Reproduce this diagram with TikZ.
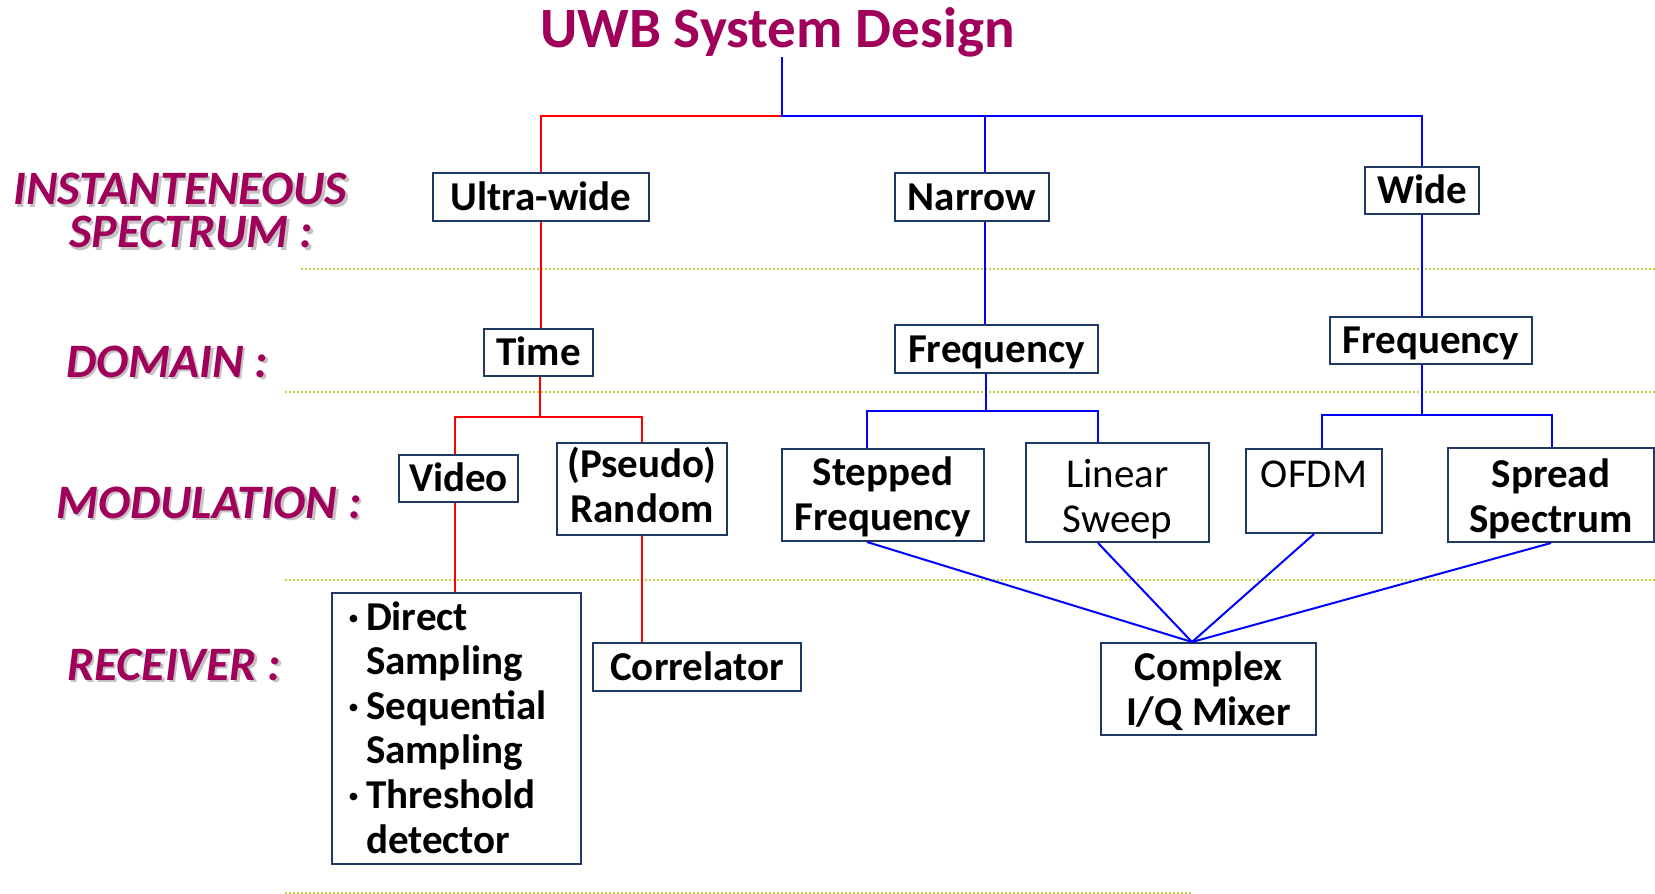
\documentclass[tikz,border=0pt]{standalone}
\usepackage{fontspec}
\setmainfont{Carlito}
\usetikzlibrary{calc}

\definecolor{uwbmag}{RGB}{160,0,90}
\definecolor{boxnavy}{RGB}{31,56,100}
\definecolor{sepgreen}{RGB}{192,208,64}
\definecolor{shadowgray}{RGB}{195,195,195}

\newcommand\uwbTitleFont{\fontsize{57}{60}\selectfont\bfseries}
\newcommand\uwbBoxFont{\fontsize{41}{45}\selectfont\bfseries}
\newcommand\uwbBoxFontReg{\fontsize{41}{45}\selectfont}
\newcommand\uwbListFont{\fontsize{41}{44.6}\selectfont\bfseries}
\newcommand\uwbLvlFont{\fontsize{48}{43}\selectfont\bfseries\itshape}
% two-line box text: first-line ascent strut, last-line depth strut
\newcommand\uwbTwo[3]{\rule{0pt}{#1pt}#2\\#3\rule[-10pt]{0pt}{10pt}}
% level label with a soft grey drop shadow behind it
\newcommand\uwbShadowed[1]{\rlap{\kern2.5pt\raisebox{-2.5pt}{\textcolor{shadowgray}{#1}}}#1}

\tikzset{
  nbox/.style={draw=boxnavy, line width=2pt, fill=white, inner sep=0pt,
    align=center, font=\uwbBoxFont},
  oneline/.style={text height=30pt, text depth=4pt},
  redline/.style={draw=red, line width=2pt},
  blueline/.style={draw=blue, line width=2pt},
  sepline/.style={draw=sepgreen, line width=1.6pt, dash pattern=on 1.6pt off 2.4pt},
  lvl/.style={font=\uwbLvlFont, text=uwbmag, anchor=base west, inner sep=0pt},
}

\begin{document}
\begin{tikzpicture}[x=1pt, y=-1pt]
\useasboundingbox (0,0) rectangle (1655,894);

% level separators
\draw[sepline] (301,269) -- (1655,269);
\draw[sepline] (285,392) -- (1655,392);
\draw[sepline] (285,580) -- (1655,580);
\draw[sepline] (285,893) -- (1191,893);

% title
\node[font=\uwbTitleFont, text=uwbmag, anchor=base, inner sep=0pt] (title) at (777.5,47) {UWB System Design};

% level labels
\node[lvl, anchor=north west, align=left] (l1) at (13,173) {%
  \uwbShadowed{INSTANTENEOUS}\\
  \hspace*{56pt}\uwbShadowed{SPECTRUM :}};
\node[lvl] (l3) at (66,377) {\uwbShadowed{DOMAIN :}};
\node[lvl] (l4) at (56,518) {\uwbShadowed{MODULATION :}};
\node[lvl] (l5) at (67,680) {\uwbShadowed{RECEIVER :}};

% instantaneous spectrum
\node[nbox, oneline, minimum width=216, minimum height=48] (ultra) at (541,197) {Ultra-wide};
\node[nbox, oneline, minimum width=154, minimum height=48] (narrow) at (972,197) {Narrow};
\node[nbox, oneline, minimum width=114, minimum height=47] (wide) at (1422,190.5) {Wide};

% domain
\node[nbox, oneline, minimum width=109, minimum height=47] (time) at (538.5,352.5) {Time};
\node[nbox, oneline, minimum width=203, minimum height=48] (freqN) at (996.5,349) {Frequency};
\node[nbox, oneline, minimum width=202, minimum height=47] (freqW) at (1431,340.5) {Frequency};

% modulation
\node[nbox, oneline, minimum width=119, minimum height=47] (video) at (458.5,478.5) {Video};
\node[nbox, minimum width=170, minimum height=92] (random) at (642,489) {\uwbTwo{31}{(Pseudo)}{Random}};
\node[nbox, minimum width=202, minimum height=92] (stepped) at (883,495) {\uwbTwo{35}{Stepped}{Frequency}};
\node[nbox, font=\uwbBoxFontReg, minimum width=183, minimum height=87] (linear) at (1117.5,492.5) {\uwbTwo{44}{Linear}{Sweep}};
\node[nbox, font=\uwbBoxFontReg, text height=30pt, text depth=38pt, minimum width=136, minimum height=84] (ofdm) at (1314,491) {OFDM};
\node[nbox, minimum width=206, minimum height=92] (spread) at (1551,495) {\uwbTwo{39}{Spread}{Spectrum}};

% receiver
\node[nbox, font=\uwbListFont, align=left, text width=217pt, minimum width=249, minimum height=271] (recv) at (456.5,728.5) {%
\rule{0pt}{36pt}\makebox[18pt][l]{·}Direct\\
\hspace*{18pt}Sampling\\
\makebox[18pt][l]{·}Sequential\\
\hspace*{18pt}Sampling\\
\makebox[18pt][l]{·}Threshold\\
\hspace*{18pt}detector\rule[-10pt]{0pt}{10pt}};
\node[nbox, oneline, minimum width=208, minimum height=48] (corr) at (697,667) {Correlator};
\node[nbox, minimum width=215, minimum height=92] (mixer) at (1208.5,689) {\uwbTwo{37}{Complex}{I/Q Mixer}};

% junction points
\coordinate (top) at (782,116);
\coordinate (nx) at (985,116);
\coordinate (tj) at (540,417);
\coordinate (vj) at (455,417);
\coordinate (rj) at (642,417);
\coordinate (fnj) at (986,411);
\coordinate (sj) at (867,411);
\coordinate (lj) at (1098,411);
\coordinate (fwj) at (1422,415);
\coordinate (oj) at (1322,415);
\coordinate (spj) at (1552,415);
\path (mixer.north) ++(-16.5,0) coordinate (mixtop);

% ultra-wide (time domain) branch
\draw[redline] (top) -| (ultra.north);
\draw[redline] (ultra.south) -- (time.north -| ultra.south);
\draw[redline] (time.south -| tj) -- (tj);
\draw[redline] (video.north -| vj) -- (vj) -- (rj) -- (random.north);
\draw[redline] (video.south -| vj) -- (recv.north -| vj);
\draw[redline] (random.south) -- (corr.north -| random.south);

% narrow / wide (frequency domain) branches
\draw[blueline] (title.south -| top) -- (top) -- (top -| wide.north) -- (wide.north);
\draw[blueline] (nx) -- (nx |- narrow.north);
\draw[blueline] (narrow.south -| nx) -- (freqN.north -| nx);
\draw[blueline] (wide.south) -- (freqW.north -| wide.south);
\draw[blueline] (freqN.south -| fnj) -- (fnj);
\draw[blueline] (stepped.north -| sj) -- (sj) -- (lj) -- (linear.north -| lj);
\draw[blueline] (freqW.south -| fwj) -- (fwj);
\draw[blueline] (ofdm.north -| oj) -- (oj) -- (spj) -- (spread.north -| spj);

% all frequency-domain modulations share the I/Q mixer
\draw[blueline] (stepped.south -| sj) -- (mixtop);
\draw[blueline] (linear.south -| lj) -- (mixtop);
\draw[blueline] (ofdm.south) -- (mixtop);
\draw[blueline] (spread.south) -- (mixtop);
\end{tikzpicture}
\end{document}
